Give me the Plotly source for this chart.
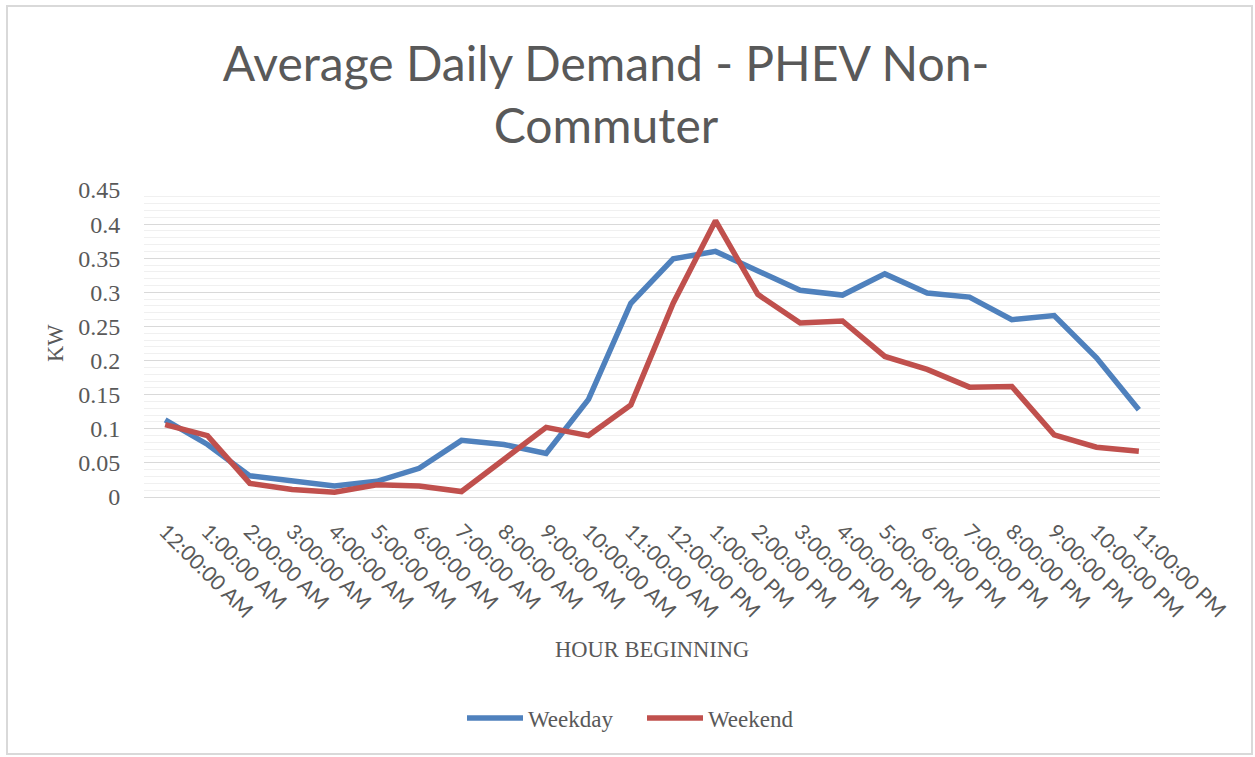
import plotly.graph_objects as go

hours = ["12:00:00 AM", "1:00:00 AM", "2:00:00 AM", "3:00:00 AM", "4:00:00 AM", "5:00:00 AM",
         "6:00:00 AM", "7:00:00 AM", "8:00:00 AM", "9:00:00 AM", "10:00:00 AM", "11:00:00 AM",
         "12:00:00 PM", "1:00:00 PM", "2:00:00 PM", "3:00:00 PM", "4:00:00 PM", "5:00:00 PM",
         "6:00:00 PM", "7:00:00 PM", "8:00:00 PM", "9:00:00 PM", "10:00:00 PM", "11:00:00 PM"]

weekday = [0.113, 0.077, 0.031, 0.023, 0.016, 0.023, 0.042, 0.083, 0.077, 0.064, 0.143, 0.284,
           0.349, 0.360, 0.331, 0.303, 0.296, 0.327, 0.299, 0.293, 0.260, 0.266, 0.204, 0.128]

weekend = [0.106, 0.090, 0.020, 0.011, 0.007, 0.018, 0.016, 0.008, 0.055, 0.102, 0.090, 0.135,
           0.284, 0.405, 0.297, 0.255, 0.258, 0.206, 0.187, 0.161, 0.162, 0.091, 0.073, 0.067]

y_ticks = [0, 0.05, 0.1, 0.15, 0.2, 0.25, 0.3, 0.35, 0.4, 0.45]
y_ticktext = ["0", "0.05", "0.1", "0.15", "0.2", "0.25", "0.3", "0.35", "0.4", "0.45"]

GREY = "#595959"
SERIF = "Liberation Serif"
SANS = "Lato"

fig = go.Figure()
fig.add_trace(go.Scatter(x=hours, y=weekday, mode="lines", name="Weekday",
                         line=dict(color="#4F81BD", width=5.5)))
fig.add_trace(go.Scatter(x=hours, y=weekend, mode="lines", name="Weekend",
                         line=dict(color="#C0504D", width=5.5)))

L, R, T, B = 144, 95, 190, 260
W, H = 1255, 757
ph = H - T - B
pw = W - L - R

def px_x(px):
    return (px - L) / pw

def px_y(py):
    return (H - B - py) / ph

fig.update_layout(
    width=W, height=H,
    margin=dict(l=L, r=R, t=T, b=B),
    paper_bgcolor="white", plot_bgcolor="white",
    title=dict(text="Average Daily Demand - PHEV Non-<br>Commuter",
               font=dict(family=SANS, size=48, color=GREY),
               x=606 / W, xanchor="center", y=1 - 81 / H, yanchor="middle"),
    showlegend=True,
    legend=dict(orientation="h", x=px_x(462), xanchor="left",
                y=px_y(718), yanchor="middle",
                font=dict(family=SERIF, size=23, color=GREY),
                itemwidth=56, entrywidth=109, entrywidthmode="pixels",
                bgcolor="rgba(0,0,0,0)"),
    xaxis=dict(type="category", tickangle=45, showgrid=False,
               showline=True, linecolor="#D9D9D9", linewidth=1,
               ticks="outside", ticklen=13, tickcolor="rgba(0,0,0,0)",
               tickfont=dict(family=SANS, size=21, color=GREY),
               range=[-0.5, len(hours) - 0.5]),
    yaxis=dict(range=[0, 0.45], tickvals=y_ticks, ticktext=y_ticktext,
               showgrid=True, gridcolor="#D9D9D9", gridwidth=1,
               zeroline=False, showline=False,
               ticks="outside", ticklen=18, tickcolor="rgba(0,0,0,0)",
               tickfont=dict(family=SERIF, size=24, color=GREY),
               minor=dict(dtick=0.01, showgrid=True, gridcolor="#F0F0F0", gridwidth=1,
                          ticks="")),
    annotations=[
        dict(text="HOUR BEGINNING", xref="paper", yref="paper",
             x=px_x(652), y=px_y(649), xanchor="center", yanchor="middle",
             showarrow=False, font=dict(family=SERIF, size=22.5, color=GREY)),
        dict(text="KW", xref="paper", yref="paper", textangle=-90,
             x=px_x(55), y=px_y(343), xanchor="center", yanchor="middle",
             showarrow=False, font=dict(family=SERIF, size=22.5, color=GREY)),
    ],
    shapes=[dict(type="rect", xref="paper", yref="paper",
                 x0=px_x(7), x1=px_x(1252), y0=px_y(6), y1=px_y(754),
                 line=dict(color="#D9D9D9", width=2), fillcolor="rgba(0,0,0,0)",
                 layer="below")],
)

fig.write_html("out.html", config={"displayModeBar": False},
               post_script="document.body.style.margin='0';document.body.style.overflow='hidden';")
